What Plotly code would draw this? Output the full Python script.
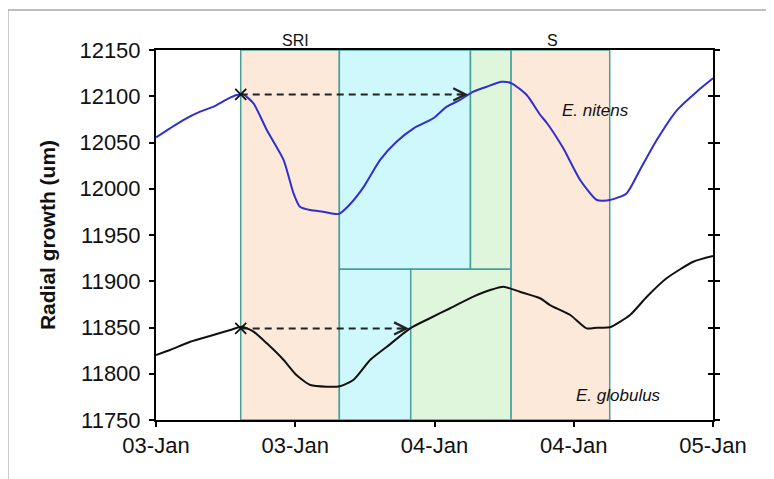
import pandas as pd
import plotly.graph_objects as go

BASE = pd.Timestamp("2011-01-03")

# E. nitens (blue), hours from 03-Jan 00:00
nitens_hours = [0, 1.2, 2.35, 3.8, 4.95, 6.1, 6.95, 7.5, 8.4, 9.55, 11.0, 11.85, 12.4, 13.3, 14.4,
                15.75, 16.7, 17.9, 19.3, 20.75, 22.2, 23.9, 25.05, 26.2, 27.35, 28.5, 29.8, 30.65,
                31.95, 33.1, 33.7, 35.1, 36.55, 38.0, 39.1, 40.55, 41.7, 43.15, 44.9, 46.6, 48.0]
nitens_um = [12055.6, 12065.3, 12074.3, 12083.3, 12088.7, 12096.7, 12101.3, 12102, 12092.4, 12063.5,
             12031, 11995, 11980.6, 11977, 11975.2, 11972.7, 11983, 12002, 12031, 12051, 12065.3,
             12076.2, 12088.7, 12096, 12105, 12110.3, 12115.7, 12114, 12101.3, 12080, 12070.8,
             12043.7, 12009.5, 11987.8, 11987.8, 11995, 12020.3, 12052.7, 12085.1, 12105, 12119.4]

# E. globulus (black)
globulus_hours = [0, 1.2, 2.95, 4.65, 6.4, 7.4, 8.4, 9.55, 11.0, 12.1, 13.3, 14.7, 15.85, 17.0, 18.45,
                  19.9, 21.9, 23.6, 25.35, 27.35, 28.8, 29.95, 31.35, 33.1, 33.95, 35.7, 37.1, 38.0,
                  39.1, 40.85, 42.3, 44.0, 46.3, 48.0]
globulus_um = [11820.3, 11825.7, 11834.6, 11840.8, 11847.3, 11850.9, 11845.5, 11832.9, 11814.9,
               11798.6, 11787.8, 11786, 11786.5, 11793.2, 11814.9, 11829.2, 11849.1, 11860, 11870.8,
               11883.3, 11890.5, 11894.1, 11888.7, 11881.6, 11874.3, 11863.5, 11849.1, 11849.8,
               11850.2, 11863.5, 11883.3, 11903.2, 11921.1, 11927.3]

# shaded phases: (start h, end h, low um, high um, colour)
phases = [
    (7.3, 15.8, 11750, 12150, "#fce9da"),
    (15.8, 27.1, 11913, 12150, "#cef8fb"),
    (27.1, 30.6, 11913, 12150, "#e0f6dc"),
    (15.8, 21.95, 11750, 11913, "#cef8fb"),
    (21.95, 30.6, 11750, 11913, "#e0f6dc"),
    (30.6, 39.1, 11750, 12150, "#fce9da"),
]

# recovery arrows: start h, end h, level
arrows = [(7.3, 26.9, 12102), (7.3, 21.8, 11849)]

phase_labels = [("SRI", 12.0), ("S", 34.2)]
species_labels = [("<i>E. nitens</i>", 37.9, 12085), ("<i>E. globulus</i>", 39.85, 11777)]

Y_RANGE = [11750, 12150]


def t(hours):
    return BASE + pd.to_timedelta(pd.Series(hours, dtype=float), unit="h")


fig = go.Figure()

for h0, h1, lo, hi, col in phases:
    fig.add_shape(type="rect", x0=t([h0])[0], x1=t([h1])[0], y0=lo, y1=hi, xref="x", yref="y",
                  fillcolor=col, line=dict(color="#45a09c", width=1.5), layer="below")

fig.add_trace(go.Scatter(x=t(nitens_hours), y=nitens_um, mode="lines", line_shape="spline",
                         line=dict(color="#2f2fcf", width=2, smoothing=0.6), showlegend=False))
# second trace sits on the overlaid right axis so its inner ticks get drawn
fig.add_trace(go.Scatter(x=t(globulus_hours), y=globulus_um, mode="lines", line_shape="spline",
                         line=dict(color="#111111", width=2, smoothing=0.6), showlegend=False,
                         yaxis="y2"))

for h0, h1, lvl in arrows:
    fig.add_trace(go.Scatter(x=t([h0, h1]), y=[lvl, lvl], mode="lines",
                             line=dict(color="#222222", width=2, dash="7px,5px"), showlegend=False))
    fig.add_trace(go.Scatter(x=t([h0]), y=[lvl], mode="markers",
                             marker=dict(symbol="x-thin", size=11, line=dict(color="#111111", width=1.8)),
                             showlegend=False))
    fig.add_annotation(x=t([h1])[0], y=lvl, ax=-12, ay=0, text="", showarrow=True,
                       arrowhead=5, arrowsize=1.6, arrowwidth=1.5, arrowcolor="#222222")

for txt, h in phase_labels:
    fig.add_annotation(x=t([h])[0], y=1.027, yref="paper", text=txt, showarrow=False,
                       font=dict(size=16, color="#111111"), yanchor="middle")

for txt, h, v in species_labels:
    fig.add_annotation(x=t([h])[0], y=v, text=txt, showarrow=False,
                       font=dict(size=17, color="#111111"))

# grey outer frame (top and left edges)
fig.add_shape(type="line", xref="paper", yref="paper", x0=-0.266, x1=1.2, y0=1.108, y1=1.108,
              line=dict(color="#a8a8a8", width=1.5))
fig.add_shape(type="line", xref="paper", yref="paper", x0=-0.266, x1=-0.266, y0=1.108, y1=-0.3,
              line=dict(color="#a8a8a8", width=1.5))

axis_common = dict(showgrid=False, zeroline=False, showline=True, linecolor="black", linewidth=2,
                   ticklen=5, tickwidth=2, tickcolor="black", automargin=False)

# page body adds an 8px offset, so the figure is 8px smaller than the window
fig.update_layout(
    width=766, height=471,
    margin=dict(l=148, r=61, t=42, b=59),
    paper_bgcolor="white", plot_bgcolor="white",
    font=dict(family="Liberation Sans, Arial, sans-serif", color="#111111"),
    xaxis=dict(type="date", range=[BASE, BASE + pd.Timedelta(hours=48)], dtick=43200000,
               tickformat="%d-%b", ticks="outside", mirror=True, tickfont=dict(size=22),
               **axis_common),
    yaxis=dict(range=Y_RANGE, dtick=50, tickformat="d", ticks="outside", mirror="ticks",
               tickfont=dict(size=22), ticklabelstandoff=4,
               title=dict(text="<b>Radial growth (um)</b>", font=dict(size=21), standoff=18),
               **axis_common),
    yaxis2=dict(range=Y_RANGE, dtick=50, overlaying="y", side="right", anchor="x",
                ticks="inside", showticklabels=False, **axis_common),
)

fig.write_html("out.html")
